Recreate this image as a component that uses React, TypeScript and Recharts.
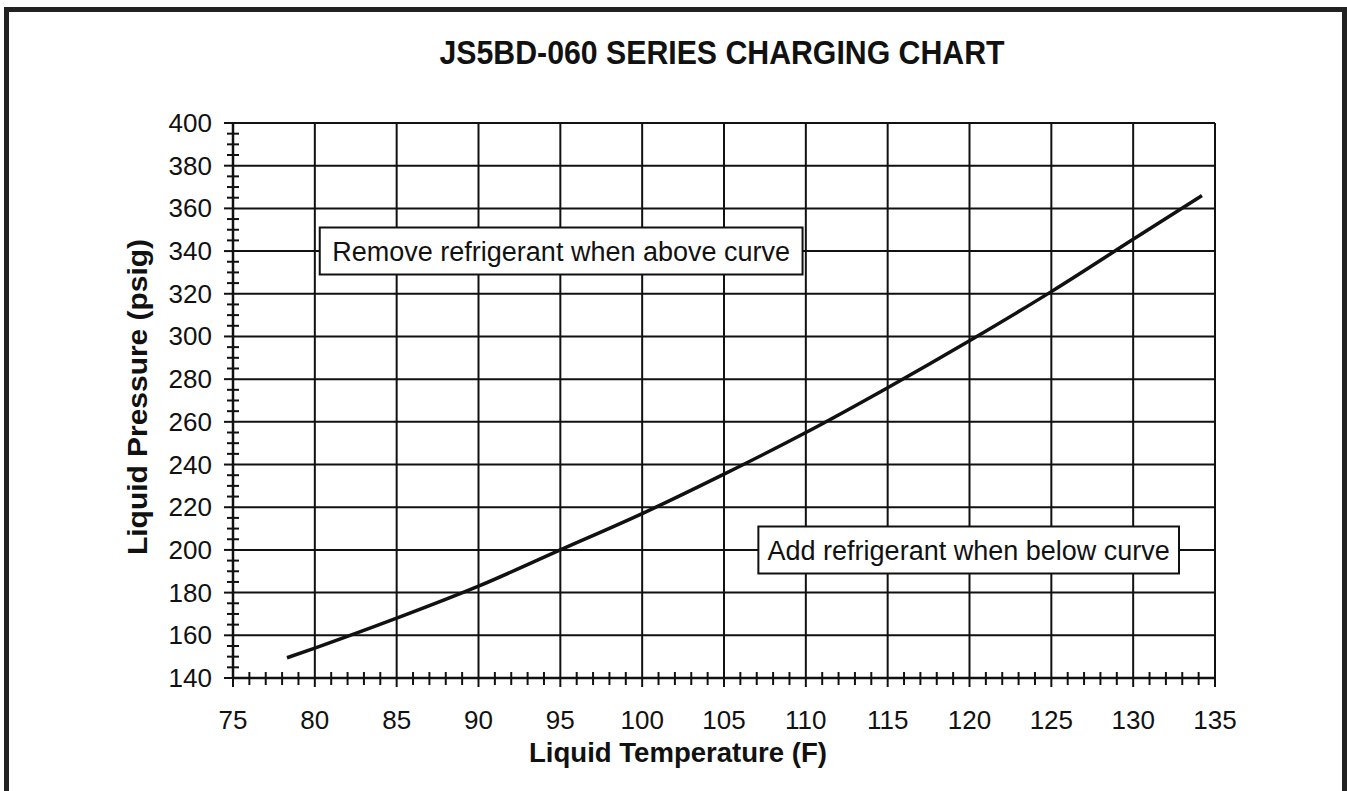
import React from "react";
import {
  LineChart,
  Line,
  XAxis,
  YAxis,
  CartesianGrid,
  ReferenceArea,
} from "recharts";

const title = "JS5BD-060 SERIES CHARGING CHART";
const xAxisTitle = "Liquid Temperature (F)";
const yAxisTitle = "Liquid Pressure (psig)";

const temps = [78.3, 80, 85, 90, 95, 100, 105, 110, 115, 120, 125, 130, 134.2];
const pressures = [149.5, 154, 168, 183, 200, 217, 235.5, 255, 276, 298, 321, 345.5, 366];

const xTicks: number[] = [];
for (let v = 75; v <= 135; v += 1) xTicks.push(v);
const yTicks: number[] = [];
for (let v = 140; v <= 400; v += 5) yTicks.push(v);
const xGrid = [80, 85, 90, 95, 100, 105, 110, 115, 120, 125, 130, 135];
const yGrid = [160, 180, 200, 220, 240, 260, 280, 300, 320, 340, 360, 380, 400];

const removeNote = "Remove refrigerant when above curve";
const addNote = "Add refrigerant when below curve";

const data = temps.map((t, i) => ({ t, p: pressures[i] }));

const FONT = "'Liberation Sans', Arial, Helvetica, sans-serif";
const INK = "#111";

const XTick = (props: any) => {
  const { x, y, payload } = props;
  const v = payload.value;
  const major = v % 5 === 0;
  return (
    <g>
      {major ? (
        <line x1={x} x2={x} y1={y} y2={y + 9} stroke={INK} strokeWidth={2} />
      ) : (
        <line x1={x} x2={x} y1={y - 6} y2={y + 7} stroke={INK} strokeWidth={2} />
      )}
      {major && (
        <text x={x} y={y + 51} textAnchor="middle" fontSize={26} fill={INK} fontFamily={FONT}>
          {v}
        </text>
      )}
    </g>
  );
};

const YTick = (props: any) => {
  const { x, y, payload } = props;
  const v = payload.value;
  const major = v % 20 === 0;
  return (
    <g>
      {major ? (
        <line x1={x - 9} x2={x} y1={y} y2={y} stroke={INK} strokeWidth={2} />
      ) : (
        <line x1={x - 6} x2={x + 6} y1={y} y2={y} stroke={INK} strokeWidth={2} />
      )}
      {major && (
        <text x={x - 21} y={y + 9} textAnchor="end" fontSize={26} fill={INK} fontFamily={FONT}>
          {v}
        </text>
      )}
    </g>
  );
};

export default function App() {
  return (
    <div style={{ position: "absolute", left: 0, top: 0, width: 1347, height: 791, fontFamily: FONT }}>
      <div
        style={{
          position: "absolute",
          left: 4,
          top: 7,
          width: 1343,
          height: 800,
          boxSizing: "border-box",
          border: "5px solid #222",
        }}
      />
      <div style={{ position: "absolute", left: 0, top: 0 }}>
        <LineChart
          width={1347}
          height={791}
          data={data}
          margin={{ top: 123, right: 132, bottom: 53, left: 173 }}
        >
          <CartesianGrid
            horizontalValues={yGrid}
            verticalValues={xGrid}
            stroke={INK}
            strokeWidth={2}
            fill="none"
          />
          <XAxis
            type="number"
            dataKey="t"
            domain={[75, 135]}
            ticks={xTicks}
            interval={0}
            tickSize={0}
            tickMargin={0}
            tickLine={false}
            axisLine={{ stroke: INK, strokeWidth: 2.5 }}
            height={60}
            tick={<XTick />}
            allowDataOverflow
          />
          <YAxis
            type="number"
            dataKey="p"
            domain={[140, 400]}
            ticks={yTicks}
            interval={0}
            tickSize={0}
            tickMargin={0}
            tickLine={false}
            axisLine={{ stroke: INK, strokeWidth: 2.5 }}
            width={60}
            tick={<YTick />}
            allowDataOverflow
          />
          <ReferenceArea
            x1={80.3}
            x2={109.8}
            y1={329}
            y2={351}
            fill="#fff"
            fillOpacity={1}
            stroke={INK}
            strokeWidth={2}
            label={{ value: removeNote, position: "center", fontSize: 27, fill: INK, fontFamily: FONT }}
          />
          <ReferenceArea
            x1={107.1}
            x2={132.8}
            y1={189}
            y2={211}
            fill="#fff"
            fillOpacity={1}
            stroke={INK}
            strokeWidth={2}
            label={{ value: addNote, position: "center", fontSize: 27, fill: INK, fontFamily: FONT }}
          />
          <Line
            type="monotone"
            dataKey="p"
            stroke={INK}
            strokeWidth={3.5}
            dot={false}
            activeDot={false}
            isAnimationActive={false}
          />
        </LineChart>
      </div>
      <svg
        width={1347}
        height={791}
        style={{ position: "absolute", left: 0, top: 0, pointerEvents: "none" }}
      >
        <text
          x={722}
          y={64}
          textAnchor="middle"
          fontSize={33}
          fontWeight="bold"
          fill={INK}
          fontFamily={FONT}
          textLength={565}
          lengthAdjust="spacingAndGlyphs"
        >
          {title}
        </text>
        <text
          x={678}
          y={762}
          textAnchor="middle"
          fontSize={28}
          fontWeight="bold"
          fill={INK}
          fontFamily={FONT}
          textLength={298}
          lengthAdjust="spacingAndGlyphs"
        >
          {xAxisTitle}
        </text>
        <text
          x={0}
          y={0}
          transform="translate(147,397) rotate(-90)"
          textAnchor="middle"
          fontSize={28}
          fontWeight="bold"
          fill={INK}
          fontFamily={FONT}
          textLength={316}
          lengthAdjust="spacingAndGlyphs"
        >
          {yAxisTitle}
        </text>
      </svg>
    </div>
  );
}
